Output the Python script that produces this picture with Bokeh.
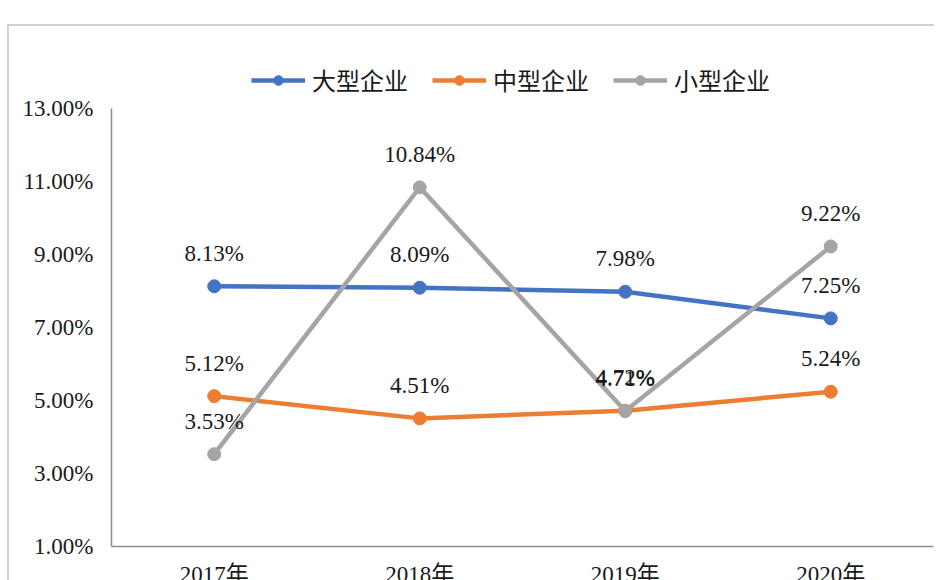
from bokeh.plotting import figure
from bokeh.models import (ColumnDataSource, FactorRange, Range1d, FixedTicker,
                          PrintfTickFormatter, Legend, LegendItem, LabelSet)
from bokeh.embed import file_html
from bokeh.resources import INLINE

categories = ["2017年", "2018年", "2019年", "2020年"]
large = [8.13, 8.09, 7.98, 7.25]
medium = [5.12, 4.51, 4.72, 5.24]
small = [3.53, 10.84, 4.71, 9.22]
series_names = ["大型企业", "中型企业", "小型企业"]
colors = ["#4472C4", "#ED7D31", "#A5A5A5"]
y_ticks = [1, 3, 5, 7, 9, 11, 13]

SERIF = "Liberation Serif"

# layout: axis spans 1..13 over 438 px; the frame is extended upward to hold the legend
FRAME_H = 500
PX_PER_UNIT = 438 / 12.0
y_top = 1 + FRAME_H / PX_PER_UNIT

p = figure(x_range=FactorRange(*categories, range_padding=0),
           y_range=Range1d(1, y_top),
           width=927, height=570,
           output_backend="svg", toolbar_location=None,
           min_border_left=102, min_border_right=3,
           min_border_top=20, min_border_bottom=570 - 20 - FRAME_H,
           margin=(24, 0, 0, 7))
p.styles = {"border-left": "2px solid #d0d0d0", "border-top": "2px solid #d0d0d0"}
p.outline_line_color = None
p.xgrid.grid_line_color = None
p.ygrid.grid_line_color = None
p.background_fill_color = "white"
p.border_fill_color = "white"

items = []
for name, vals, col in zip(series_names, [large, medium, small], colors):
    src = ColumnDataSource(dict(x=categories, y=vals))
    lr = p.line("x", "y", source=src, line_color=col, line_width=4.5)
    sr = p.scatter("x", "y", source=src, size=13, fill_color=col, line_color=col)
    items.append(LegendItem(label=name, renderers=[lr, sr]))

for vals in [large, medium, small]:
    src = ColumnDataSource(dict(x=categories, y=vals, t=[f"{v:.2f}%" for v in vals]))
    p.add_layout(LabelSet(x="x", y="y", text="t", source=src, y_offset=33,
                          text_align="center", text_baseline="middle",
                          text_font=SERIF, text_font_size="23px",
                          text_color="#1a1a1a"))

legend = Legend(items=items, orientation="horizontal", location=(140, 449),
                glyph_width=54, glyph_height=24, label_standoff=7, spacing=24,
                padding=5, margin=0, border_line_color=None,
                background_fill_alpha=0,
                label_text_font="Noto Sans CJK SC", label_text_font_size="24px",
                label_text_color="#1a1a1a")
p.add_layout(legend, "center")

ya = p.yaxis[0]
ya.bounds = (1, 13)
ya.ticker = FixedTicker(ticks=y_ticks)
ya.formatter = PrintfTickFormatter(format="%.2f%%")
ya.major_label_text_font = SERIF
ya.major_label_text_font_size = "23px"
ya.major_label_text_color = "#1a1a1a"
ya.major_tick_out = 0
ya.major_tick_in = 0
ya.minor_tick_line_color = None
ya.axis_line_color = "#8c8c8c"
ya.axis_line_width = 1.5
ya.major_label_standoff = 18

xa = p.xaxis[0]
xa.major_label_text_font = SERIF + ", Noto Sans CJK SC"
xa.major_label_text_font_size = "23px"
xa.major_label_text_color = "#1a1a1a"
xa.major_tick_out = 0
xa.major_tick_in = 0
xa.minor_tick_line_color = None
xa.axis_line_color = "#8c8c8c"
xa.axis_line_width = 1.5
xa.major_label_standoff = 15

open("out.html", "w").write(file_html(p, INLINE))
